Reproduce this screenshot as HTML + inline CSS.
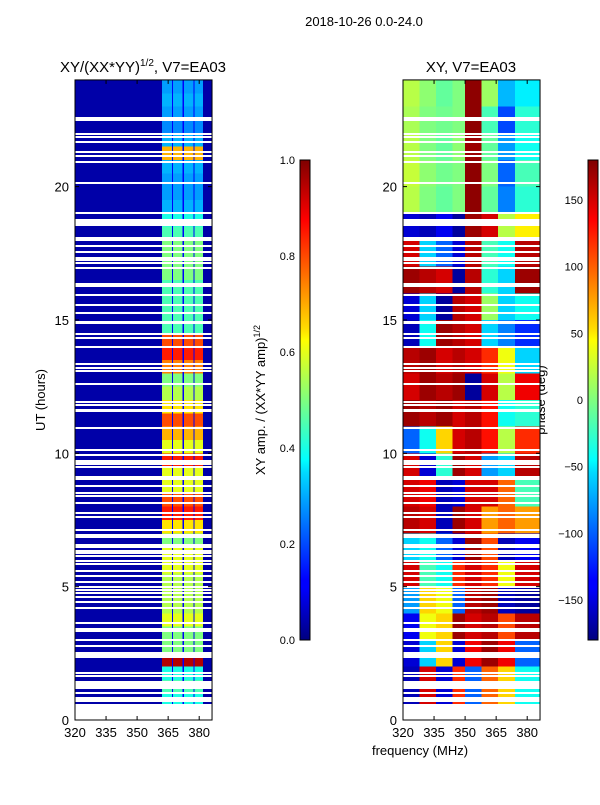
<!DOCTYPE html>
<html><head><meta charset="utf-8">
<style>
body{margin:0;background:#fff;}
svg text{font-family:"Liberation Sans",sans-serif;fill:#000;}
#left rect,#right rect{shape-rendering:crispEdges;}
</style></head>
<body>
<svg id="fig" width="600" height="800" viewBox="0 0 600 800" xmlns="http://www.w3.org/2000/svg">
<rect width="600" height="800" fill="#fff"/>
<text x="364" y="26" font-size="13" text-anchor="middle">2018-10-26 0.0-24.0</text>
<text x="143" y="72" font-size="15" text-anchor="middle">XY/(XX*YY)<tspan font-size="10" dy="-6">1/2</tspan><tspan dy="6">, V7=EA03</tspan></text>
<text x="471" y="72" font-size="15" text-anchor="middle">XY, V7=EA03</text>
<text transform="translate(45,400) rotate(-90)" font-size="13" text-anchor="middle">UT (hours)</text>
<text transform="translate(265,400) rotate(-90)" font-size="13" text-anchor="middle">XY amp. / (XX*YY amp)<tspan font-size="9" dy="-5">1/2</tspan></text>
<text transform="translate(545,400) rotate(-90)" font-size="13" text-anchor="middle">phase (deg)</text>
<text x="420" y="755" font-size="13" text-anchor="middle">frequency (MHz)</text>
<defs>
<linearGradient id="jet" x1="0" y1="1" x2="0" y2="0">
<stop offset="0" stop-color="#00007f"/><stop offset="0.11" stop-color="#0000ff"/><stop offset="0.125" stop-color="#0000ff"/>
<stop offset="0.35" stop-color="#00dbff"/><stop offset="0.375" stop-color="#00ffff"/><stop offset="0.5" stop-color="#7fff7f"/>
<stop offset="0.625" stop-color="#ffff00"/><stop offset="0.65" stop-color="#ffdb00"/><stop offset="0.875" stop-color="#ff0000"/><stop offset="1" stop-color="#7f0000"/>
</linearGradient>
</defs>
<g id="left"></g>
<g id="right"></g>
<g id="axes"></g>
<rect x="300" y="160" width="10" height="480" fill="url(#jet)" stroke="#000" stroke-width="1"/>
<rect x="588" y="160" width="10" height="480" fill="url(#jet)" stroke="#000" stroke-width="1"/>
</svg>
<script>
// ---- data ----
const freqTicks = [320, 335, 350, 365, 380];
const utTicks = [0, 5, 10, 15, 20];
const ampTicks = [0.0, 0.2, 0.4, 0.6, 0.8, 1.0];
const phaseTicks = [-150, -100, -50, 0, 50, 100, 150];
// amplitude of the bright strips per half-hour (UT 0..24)
const stripAmp = [0.0,0.4,0.45,0.4,0.95,0.5,0.5,0.6,0.55,0.55,0.55,0.6,0.6,0.5,0.65,0.85,0.8,0.6,0.6,0.85,0.6,0.7,0.8,0.65,0.55,0.5,0.75,0.85,0.8,0.45,0.45,0.45,0.45,0.5,0.5,0.5,0.45,0.4,0.3,0.28,0.28,0.3,0.7,0.3,0.26,0.28,0.3,0.28];
const stripStart = [362, 367.4, 372.6, 377.7];
const stripEnd = [366.8, 372, 377.2, 381.8];
const gapAmp = 0.12;
const bgAmp = 0.04;
// phase grid: rows per hour (UT 0..24), columns by frequency band
const phaseColEdges = [320, 328, 336, 344, 350, 358, 366, 374, 386.2];
const phaseRows = [
 [-160,150,-150,120,-100,100,60,-40],
 [-160,150,-150,120,-100,100,60,-40],
 [-150,-60,60,-150,140,170,140,-100],
 [-140,40,60,170,150,160,110,160],
 [-80,60,40,-100,160,170,-160,-170],
 [150,-20,-40,120,150,120,40,150],
 [-60,-40,-100,-150,170,110,-160,-140],
 [160,150,-160,170,150,80,100,80],
 [150,140,-160,-150,150,150,100,-20],
 [150,-150,-30,170,150,-80,-60,160],
 [-100,-40,60,150,160,130,20,120],
 [170,160,170,150,160,130,-40,-30],
 [150,170,160,170,-170,150,20,140],
 [160,170,150,160,150,120,40,-60],
 [-160,-40,170,160,150,-60,-90,-120],
 [-150,-60,-170,160,150,10,-60,-40],
 [170,160,150,-170,160,-30,-60,170],
 [150,-60,-100,-150,160,-20,-40,160],
 [-150,-160,-140,-170,170,150,20,50],
 [20,0,-10,0,175,-10,-90,-30],
 [25,5,-5,0,175,0,-100,-20],
 [20,0,-10,5,170,-10,-80,-40],
 [15,0,-5,0,175,-20,-110,-30],
 [20,5,-10,0,175,10,-70,-50]
];
// flagged (blank) rows: centre UT and duration in hours
const flagUT = [0.3,0.77,1.01,1.28,1.42,1.65,1.76,2.36,2.44,2.51,2.77,3.0,3.37,3.64,4.20,4.42,4.61,4.76,4.87,4.99,5.17,5.40,5.59,5.85,5.96,6.15,6.26,6.34,6.52,6.86,6.94,7.12,7.61,7.76,8.14,8.40,8.51,8.77,9.04,9.11,9.49,9.65,9.94,10.12,10.95,11.6,11.81,11.92,12.60,13.09,13.20,13.35,13.99,14.32,14.47,14.89,14.92,15.26,15.56,15.94,16.27,16.35,16.95,17.14,17.25,17.32,17.55,17.77,18.0,18.07,18.56,18.71,19.01,20.14,20.92,21.15,21.30,21.67,21.86,21.97,22.50,22.57];
const flagDur = [0.6,0.19,0.07,0.23,0.06,0.06,0.06,0.05,0.05,0.05,0.06,0.06,0.15,0.06,0.06,0.06,0.06,0.05,0.05,0.05,0.06,0.06,0.06,0.05,0.05,0.05,0.05,0.05,0.15,0.05,0.05,0.06,0.06,0.06,0.06,0.05,0.05,0.06,0.05,0.05,0.06,0.19,0.06,0.06,0.06,0.12,0.05,0.05,0.06,0.05,0.05,0.06,0.06,0.06,0.06,0.05,0.05,0.06,0.06,0.06,0.05,0.05,0.06,0.05,0.05,0.05,0.06,0.06,0.05,0.05,0.06,0.17,0.07,0.07,0.06,0.06,0.06,0.06,0.05,0.05,0.05,0.05];

// ---- scales ----
const NS = 'http://www.w3.org/2000/svg';
const F0 = 320, F1 = 386.2, PXF = 2.07;
const xL = f => 75 + (f - F0) * PXF;
const xR = f => 403 + (f - F0) * PXF;
const yU = u => 720 - u * 26.67;
const ampY = a => 640 - a * 480;
const phY = p => 400 - p * (480 / 360);
function jet(v){
  v = Math.max(0, Math.min(1, v));
  const c = t => Math.round(255 * Math.max(0, Math.min(1, 1.5 - Math.abs(4 * v - t))));
  return `rgb(${c(3)},${c(2)},${c(1)})`;
}
function rect(g, x, y, w, h, fill){
  const r = document.createElementNS(NS, 'rect');
  r.setAttribute('x', x); r.setAttribute('y', y);
  r.setAttribute('width', w); r.setAttribute('height', h);
  r.setAttribute('fill', fill);
  g.appendChild(r);
  return r;
}
const L = document.getElementById('left'), R = document.getElementById('right'), A = document.getElementById('axes');

// left heatmap
rect(L, xL(F0), yU(24), xL(F1) - xL(F0), yU(0) - yU(24), jet(bgAmp));
stripAmp.forEach((a, i) => {
  const y0 = yU((i + 1) * 0.5), h = yU(i * 0.5) - y0;
  const gr = rect(L, xL(stripStart[0]), y0, xL(stripEnd[3]) - xL(stripStart[0]), h, jet(gapAmp));
  
  
  stripStart.forEach((s, k) => {
    const c = rect(L, xL(s), y0, xL(stripEnd[k]) - xL(s), h, jet(a));
    
    
  });
});
// right heatmap
phaseRows.forEach((row, i) => {
  row.forEach((p, k) => {
    const x0 = xR(phaseColEdges[k]), x1 = xR(phaseColEdges[k + 1]);
    const c = rect(R, x0, yU(i + 1), x1 - x0, yU(i) - yU(i + 1), jet((p + 180) / 360));
    
    
  });
});
// flagged rows
[xL, xR].forEach(xf => {
  flagUT.forEach((u, i) => {
    const y0 = yU(u + flagDur[i] / 2), y1 = yU(u - flagDur[i] / 2);
    const r = rect(xf === xL ? L : R, xf(F0), Math.round(y0), xf(F1) - xf(F0), Math.max(2, Math.round(y1 - y0)), '#fff');
    
    
  });
});
// axes
function line(x1, y1, x2, y2){
  const l = document.createElementNS(NS, 'line');
  l.setAttribute('x1', x1); l.setAttribute('y1', y1); l.setAttribute('x2', x2); l.setAttribute('y2', y2);
  l.setAttribute('stroke', '#000'); l.setAttribute('stroke-width', 1);
  A.appendChild(l);
}
function text(x, y, s, anchor, size){
  const t = document.createElementNS(NS, 'text');
  t.setAttribute('x', x); t.setAttribute('y', y); t.setAttribute('font-size', size);
  t.setAttribute('text-anchor', anchor);
  t.textContent = s;
  
  
  A.appendChild(t);
}
[xL, xR].forEach(xf => {
  const fr = document.createElementNS(NS, 'rect');
  fr.setAttribute('x', xf(F0)); fr.setAttribute('y', yU(24));
  fr.setAttribute('width', xf(F1) - xf(F0)); fr.setAttribute('height', yU(0) - yU(24));
  fr.setAttribute('fill', 'none'); fr.setAttribute('stroke', '#000');
  
  
  A.appendChild(fr);
  freqTicks.forEach(f => {
    line(xf(f), yU(0), xf(f), yU(0) - 4);
    line(xf(f), yU(24), xf(f), yU(24) + 4);
    text(xf(f), 737, String(f), 'middle', 13);
  });
  utTicks.forEach(u => {
    line(xf(F0), yU(u), xf(F0) + 4, yU(u));
    line(xf(F1), yU(u), xf(F1) - 4, yU(u));
    text(xf(F0) - 6, yU(u) + 5, String(u), 'end', 13);
  });
});
ampTicks.forEach(a => {
  line(300, ampY(a), 304, ampY(a)); line(310, ampY(a), 306, ampY(a));
  text(295, ampY(a) + 4, a.toFixed(1), 'end', 11);
});
phaseTicks.forEach(p => {
  line(588, phY(p), 592, phY(p)); line(598, phY(p), 594, phY(p));
  text(583, phY(p) + 4, p < 0 ? '\u2212' + Math.abs(p) : String(p), 'end', 11);
});
</script>
</body></html>
